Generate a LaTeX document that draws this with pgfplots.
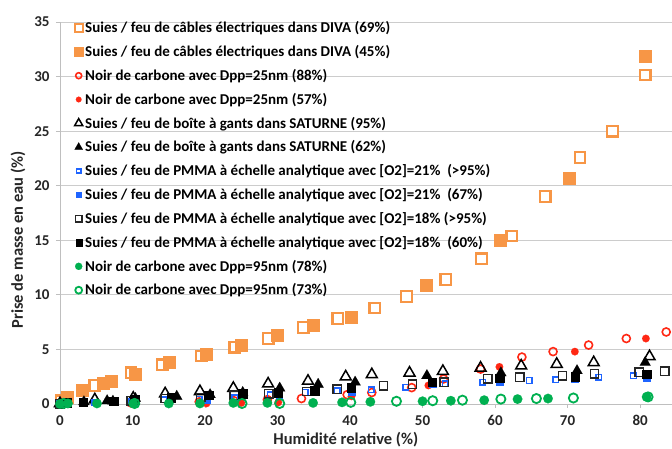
\documentclass[border=0pt]{standalone}
\usepackage{fontspec}
\setmainfont{Carlito}
\usepackage{pgfplots}
\pgfplotsset{compat=1.18}
\definecolor{corange}{RGB}{247,150,70}
\definecolor{cred}{RGB}{255,40,20}
\definecolor{cblue}{RGB}{30,100,255}
\definecolor{cgreen}{RGB}{0,176,80}
\begin{document}
\begin{tikzpicture}
\begin{axis}[
 at={(0,0)}, anchor=south west,
 scale only axis, width=612pt, height=382pt,
 xmin=0, xmax=84.4, ymin=0, ymax=35,
 xtick={0,10,...,80}, ytick={0,5,...,35},
 ymajorgrids, grid style={gray!40, line width=0.8pt},
 axis x line*=bottom, axis y line*=left,
 axis line style={gray!50, line width=0.8pt},
 tick style={gray!50, line width=0.8pt}, tick align=outside, major tick length=4pt,
 ticklabel style={font=\bfseries\fontsize{15}{17}\selectfont, text=black!85},
 xticklabel style={yshift=-4pt},
 yticklabel style={xshift=-3pt},
 /pgf/number format/assume math mode=true,
 clip=false,
 xlabel={\bfseries Humidité relative (\%)},
 ylabel={\bfseries Prise de masse en eau (\%)},
 label style={font=\bfseries\fontsize{16.5}{19}\selectfont, text=black!85},
 xlabel style={at={(axis description cs:0.467,-0.094)}, anchor=center, inner sep=1pt},
 ylabel style={at={(axis description cs:-0.0686,0.43)}, anchor=center},
 legend style={at={(axis description cs:0,1)}, anchor=north west, xshift=14pt, yshift=2.5pt, draw=none, fill=none, font=\bfseries\fontsize{15}{17}\selectfont, row sep=7.2pt, inner sep=0pt},
 legend cell align=left,
 legend image post style={scale=0.75},
]
% 1 orange open
\addplot[only marks, color=corange, mark=square*, mark size=5.3pt, mark options={solid, draw=corange, fill=white}, line width=2.2pt] coordinates {
(0.2,0.3)(4.8,1.7)(9.8,2.85)(14.1,3.6)(19.5,4.4)(24.1,5.2)(28.7,6.0)(33.6,7.0)(38.3,7.85)(43.4,8.8)(47.8,9.85)(53.2,11.4)(58.1,13.3)(62.3,15.4)(66.9,19.0)(71.7,22.6)(76.2,25.0)(80.7,30.15)};
\addlegendentry{Suies / feu de câbles électriques dans DIVA (69\%)}
% 2 orange filled
\addplot[only marks, color=corange, mark=square*, mark size=6pt, mark options={solid, draw=corange, fill=corange}, line width=0.1pt] coordinates {
(1.0,0.6)(3.1,1.3)(6.0,1.9)(7.1,2.1)(10.4,2.75)(15.0,3.8)(20.1,4.6)(25.0,5.4)(29.9,6.3)(34.9,7.2)(40.1,7.95)(50.5,10.9)(60.7,15.0)(70.2,20.7)(80.7,31.9)};
\addlegendentry{Suies / feu de câbles électriques dans DIVA (45\%)}
% 3 red open
\addplot[only marks, color=cred, mark=o, mark size=4pt, mark options={solid, draw=cred}, line width=1.6pt] coordinates {
(0,0)(9.8,0.1)(19.2,0.2)(24.0,0.3)(28.6,0.4)(33.3,0.5)(39.6,0.85)(43.0,1.05)(48.5,1.5)(52.9,2.3)(58.0,3.2)(63.7,4.3)(68.0,4.8)(72.9,5.4)(78.1,6.0)(83.6,6.6)};
\addlegendentry{Noir de carbone avec Dpp=25nm (88\%)}
% 4 red filled
\addplot[only marks, color=cred, mark=*, mark size=3.8pt, mark options={solid, draw=cred, fill=cred}, line width=0.1pt] coordinates {
(1,0.05)(10.1,0.1)(20.2,0.05)(25,0.1)(30.1,0.15)(40.2,0.7)(50.8,1.7)(60.6,3.4)(71.0,4.8)(80.8,6.0)};
\addlegendentry{Noir de carbone avec Dpp=25nm (57\%)}
% 5 black open triangle
\addplot[only marks, color=black, mark=triangle, mark size=6.3pt, mark options={solid, draw=black}, line width=1.5pt] coordinates {
(0,0.05)(4.8,0.4)(10.1,0.55)(14.5,0.95)(19.3,1.15)(23.9,1.45)(28.7,1.85)(34.2,2.1)(39.4,2.5)(43,2.7)(48.2,2.85)(52.8,3.0)(58.0,3.3)(63.6,3.5)(68.5,3.65)(73.6,3.8)(81.3,4.35)};
\addlegendentry{Suies / feu de boîte à gants dans SATURNE (95\%)}
% 6 black filled triangle
\addplot[only marks, color=black, mark=triangle*, mark size=6.3pt, mark options={solid, draw=black, fill=black}, line width=0.1pt] coordinates {
(0,0)(3.3,0.2)(6.5,0.3)(7.3,0.25)(10.4,0.5)(16.1,0.7)(20.7,0.85)(25.2,1.05)(30.3,1.45)(35.6,1.8)(40.7,2.0)(50.6,2.6)(60.8,2.85)(71.3,3.05)(80.7,3.8)};
\addlegendentry{Suies / feu de boîte à gants dans SATURNE (62\%)}
% 7 blue open square
\addplot[only marks, color=cblue, mark=square, mark size=2.8pt, mark options={solid, draw=cblue}, line width=1.4pt] coordinates {
(0,0)(4.8,0.1)(9.8,0.2)(14.3,0.4)(19.2,0.45)(24.1,0.55)(29.0,0.85)(33.8,1.05)(38.2,1.2)(42.9,1.3)(47.7,1.55)(53.1,1.85)(58.3,2.0)(64.7,2.15)(68.4,2.2)(74.3,2.45)(79.1,2.6)};
\addlegendentry{Suies / feu de PMMA à échelle analytique avec [O2]=21\%~ (>95\%)}
% 8 blue filled square
\addplot[only marks, color=cblue, mark=square*, mark size=3.3pt, mark options={solid, draw=cblue, fill=cblue}, line width=0.1pt] coordinates {
(1,0.05)(10.3,0.15)(20.3,0.4)(30.2,0.75)(40.2,1.1)(51.4,1.85)(60.6,2.0)(71.0,2.3)(80.9,2.4)};
\addlegendentry{Suies / feu de PMMA à échelle analytique avec [O2]=21\%~ (67\%)}
% 9 black open square
\addplot[only marks, color=black!85, mark=square, mark size=4.2pt, mark options={solid, draw=black!85}, line width=1.4pt] coordinates {
(0,0)(9.8,0.3)(14.5,0.5)(19.4,0.6)(24.0,0.8)(28.8,0.95)(34.0,1.15)(38.2,1.35)(44.6,1.65)(48.6,1.8)(53.0,2.0)(59.0,2.3)(63.4,2.45)(69.3,2.6)(73.7,2.75)(79.9,2.9)(83.4,3.0)};
\addlegendentry{Suies / feu de PMMA à échelle analytique avec [O2]=18\% (>95\%)}
% 10 black filled square
\addplot[only marks, color=black, mark=square*, mark size=4.2pt, mark options={solid, draw=black, fill=black}, line width=0.1pt] coordinates {
(1,0.15)(3.2,0.2)(7.4,0.25)(10.3,0.4)(15.3,0.6)(20.5,0.8)(25.2,0.95)(30.1,1.05)(35.1,1.25)(40.1,1.5)(51.3,2.0)(60.6,2.4)(71.0,2.5)(80.9,2.75)};
\addlegendentry{Suies / feu de PMMA à échelle analytique avec [O2]=18\%~ (60\%)}
% 11 green filled
\addplot[only marks, color=cgreen, mark=*, mark size=4.8pt, mark options={solid, draw=cgreen, fill=cgreen}, line width=0.1pt] coordinates {
(0,0)(1.1,0.05)(5.1,0.05)(10.1,0.05)(15,0.05)(19.3,0.05)(23.9,0.1)(28.6,0.1)(34.9,0.1)(38.9,0.15)(42.8,0.2)(50.0,0.25)(53.9,0.3)(58.5,0.35)(63.1,0.45)(67.3,0.5)(80.9,0.65)};
\addlegendentry{Noir de carbone avec Dpp=95nm (78\%)}
% 12 green open
\addplot[only marks, color=cgreen, mark=o, mark size=4.6pt, mark options={solid, draw=cgreen}, line width=1.8pt] coordinates {
(0.5,0.05)(10.3,0.05)(25.1,0.05)(30.3,0.05)(40.1,0.15)(46.4,0.25)(51.4,0.3)(55.5,0.35)(60.8,0.45)(65.7,0.5)(70.8,0.55)(81.1,0.65)};
\addlegendentry{Noir de carbone avec Dpp=95nm (73\%)}
\end{axis}
\pgfresetboundingbox
\path ([xshift=-60pt,yshift=-44pt]current axis.south west) rectangle ([yshift=22pt]current axis.north east);
\end{tikzpicture}
\end{document}
